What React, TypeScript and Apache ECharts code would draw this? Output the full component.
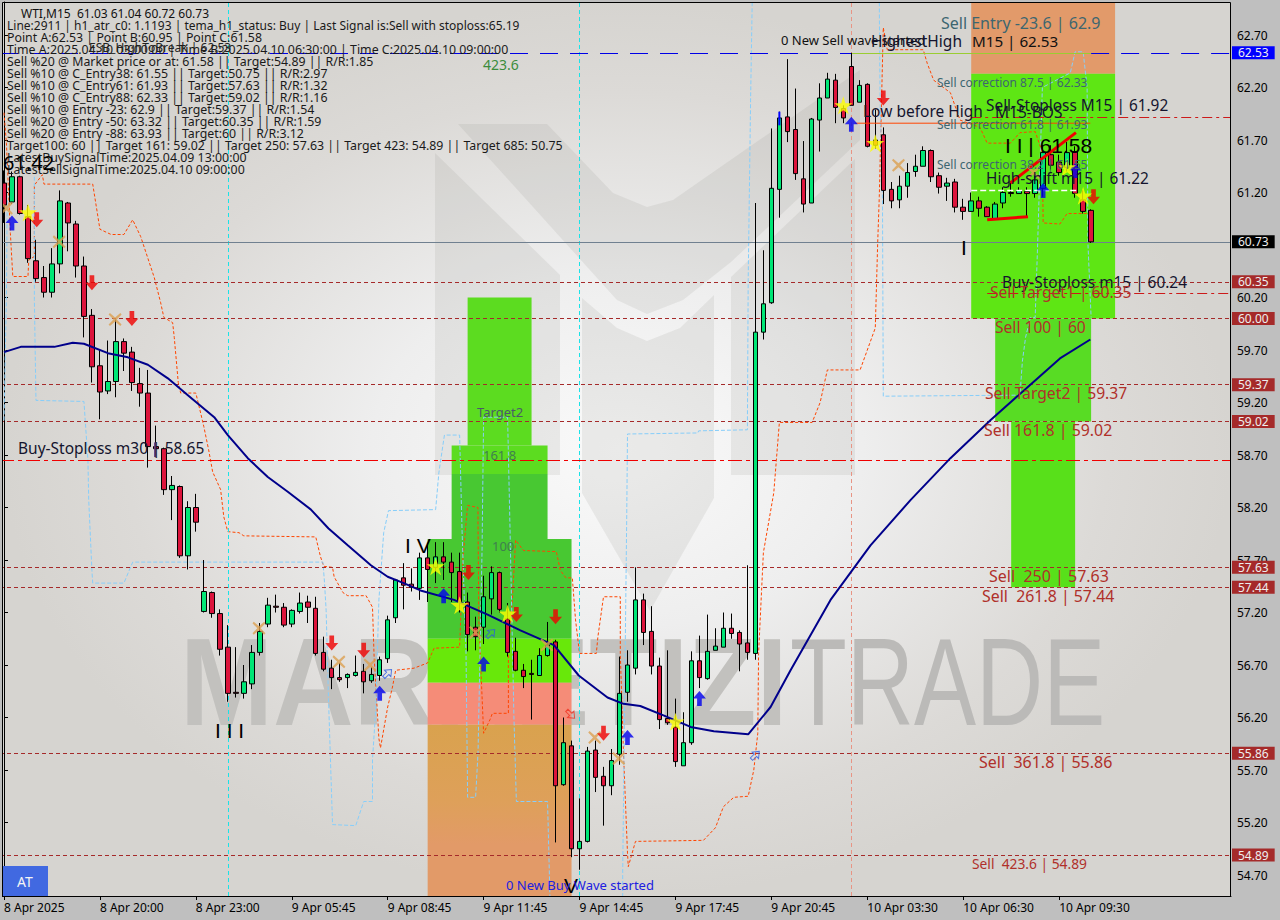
import React, { useEffect, useRef } from "react";
import * as echarts from "echarts";

const tickLabels = ["8 Apr 2025","8 Apr 20:00","8 Apr 23:00","9 Apr 05:45","9 Apr 08:45","9 Apr 11:45","9 Apr 14:45","9 Apr 17:45","9 Apr 20:45","10 Apr 03:30","10 Apr 06:30","10 Apr 09:30"];
const priceTicks = [62.7,62.2,61.7,61.2,60.2,59.7,59.2,58.7,58.2,57.7,57.2,56.7,56.2,55.7,55.2,54.7];

const opens = [61.29,61.11,61.35,60.97,60.55,60.39,60.25,60.52,61.10,60.90,
60.50,60.03,59.55,59.31,59.40,59.78,59.68,59.38,59.29,58.78,
58.76,58.37,58.40,57.74,58.20,57.21,57.39,57.19,56.87,56.44,
56.43,56.52,56.82,57.09,57.26,57.25,57.09,57.21,57.30,57.24,
56.82,56.67,56.58,56.58,56.60,56.64,56.55,56.60,56.76,57.15,
57.53,57.47,57.43,57.72,57.63,57.73,57.68,57.59,57.30,57.06,
57.06,57.33,57.58,57.14,56.83,56.65,56.62,56.60,56.79,56.92,
55.56,55.93,54.95,55.02,55.89,55.64,55.55,55.85,56.44,56.67,
57.32,57.02,56.69,56.19,56.11,55.74,55.96,56.74,56.57,56.84,
56.87,57.05,57.01,56.91,56.81,59.87,60.15,61.23,61.92,61.80,
61.33,61.10,61.89,62.10,62.27,62.00,62.40,62.06,62.23,61.70,
61.75,61.23,61.13,61.26,61.40,61.45,61.60,61.36,61.26,61.30,
61.06,61.02,61.12,61.06,60.95,61.10,61.20,61.19,61.21,61.19,
61.24,61.56,61.49,61.44,61.59,61.13,61.03];
const closes = [61.08,61.35,61.00,60.57,60.38,60.25,60.52,61.12,60.91,60.50,
60.02,59.54,59.30,59.40,59.78,59.67,59.39,59.29,58.78,58.76,
58.37,58.41,57.74,58.20,58.06,57.40,57.19,56.85,56.43,56.43,
56.54,56.82,57.02,57.27,57.25,57.08,57.22,57.29,57.25,56.81,
56.66,56.58,56.56,56.61,56.63,56.54,56.61,56.75,57.13,57.51,
57.46,57.44,57.72,57.61,57.73,57.68,57.58,57.30,56.99,56.97,
57.35,57.58,57.23,56.82,56.65,56.59,56.61,56.79,56.89,55.55,
55.96,54.95,55.02,55.88,55.63,55.55,55.79,56.43,56.70,57.32,
57.01,56.69,56.18,56.15,55.78,55.96,56.74,56.58,56.83,56.88,
57.05,57.00,56.90,56.82,59.87,60.14,61.24,61.91,61.78,61.38,
61.09,61.90,62.10,62.28,62.01,61.91,62.03,62.22,61.64,61.65,
61.22,61.12,61.26,61.39,61.45,61.60,61.35,61.25,61.29,61.06,
61.02,61.12,61.05,60.97,61.09,61.20,61.19,61.22,61.19,61.32,
61.58,61.46,61.39,61.58,61.19,61.02,60.73];
const lows = [60.91,61.09,60.99,60.53,60.35,60.20,60.20,60.43,60.64,60.39,
59.82,59.39,59.04,59.28,59.25,59.50,59.31,59.16,58.58,58.68,
58.32,58.08,57.72,57.61,57.97,57.20,57.15,56.79,56.35,56.39,
56.38,56.47,56.79,57.06,57.20,57.06,57.06,57.19,57.10,56.79,
56.64,56.47,56.54,56.48,56.59,56.43,56.53,56.55,56.72,57.10,
57.23,57.40,57.32,57.30,57.48,57.51,57.30,57.20,56.83,56.84,
56.90,57.18,57.20,56.78,56.64,56.48,56.18,56.60,56.78,55.01,
55.55,54.87,54.75,55.01,55.49,55.17,55.46,55.75,56.35,56.61,
56.89,56.61,56.09,56.13,55.73,55.74,55.94,56.48,56.56,56.84,
56.87,56.95,56.64,56.75,56.75,59.80,60.14,60.96,61.68,61.32,
61.01,61.10,61.59,62.10,61.86,61.86,62.03,62.06,61.63,61.62,
61.09,61.05,61.05,61.15,61.35,61.45,61.30,61.19,61.12,61.01,
60.94,61.02,60.97,60.97,60.95,61.05,61.16,61.19,60.97,61.15,
61.16,61.42,61.36,61.40,61.15,61.00,60.72];
const highs = [61.41,61.40,61.36,61.08,60.75,60.50,60.67,61.22,61.11,60.93,
60.59,60.09,59.70,59.79,59.99,59.81,59.73,59.53,59.51,58.98,
58.77,58.50,58.41,58.26,58.33,57.70,57.40,57.23,57.08,56.87,
56.70,56.89,57.10,57.34,57.37,57.29,57.23,57.39,57.36,57.35,
56.97,56.75,56.72,56.62,56.79,56.71,56.68,56.78,57.17,57.52,
57.67,57.62,57.77,57.86,57.87,57.87,57.77,57.77,57.39,57.16,
57.55,57.64,57.59,57.29,56.96,56.71,56.75,56.86,57.11,56.94,
56.20,55.98,55.43,55.92,55.98,55.73,55.90,56.78,56.84,57.63,
57.38,57.26,56.77,56.84,56.38,56.25,56.83,56.98,57.18,57.05,
57.20,57.19,57.03,57.65,61.10,60.65,61.81,61.97,62.47,62.19,
61.69,61.91,62.24,62.34,62.33,62.03,62.53,62.27,62.24,61.99,
61.82,61.30,61.36,61.48,61.56,61.64,61.61,61.39,61.34,61.33,
61.14,61.20,61.16,61.07,61.11,61.25,61.29,61.25,61.25,61.36,
61.65,61.65,61.56,61.68,61.64,61.22,61.04];

const maLine = [[0,59.68],[2.1,59.73],[6.3,59.73],[8.6,59.77],[10,59.76],[13,59.67],[15.5,59.63],[18,59.56],[20.5,59.43],[23,59.27],[26.3,59.06],[28,58.89],[30.5,58.67],[33,58.49],[35.5,58.35],[38.4,58.18],[40.6,58.00],[43,57.84],[45.9,57.65],[48,57.54],[50,57.48],[52.1,57.41],[56.3,57.32],[60.5,57.18],[64.6,57.03],[68.8,56.89],[71.9,56.60],[75.5,56.39],[77.5,56.33],[79.6,56.31],[82.5,56.22],[85.9,56.11],[88.8,56.07],[93.1,56.04],[95.9,56.30],[98.4,56.65],[103.4,57.32],[108.4,57.84],[113.4,58.27],[118.4,58.67],[123.4,59.03],[128.4,59.37],[132.1,59.62],[135.9,59.80]];

const orangeBand = [[0,61.96],[0.3,61.67],[0.8,60.81],[1.1,60.40],[3,60.40],[3.1,60.56],[3.8,60.59],[3.8,61.27],[4.8,61.37],[5,61.28],[11.1,61.28],[12,60.85],[13.4,60.80],[15,60.80],[16.1,60.94],[17.1,60.78],[18.8,60.39],[19.6,60.15],[20,60.01],[21.1,59.96],[21.3,59.82],[21.8,59.39],[22.1,59.29],[24,59.29],[24.6,59.10],[25,58.97],[25.6,58.75],[26.1,58.54],[27.1,58.37],[27.5,58.11],[28,57.97],[29.4,57.96],[30,57.93],[39,57.92],[39.6,57.73],[40,57.64],[41.1,57.63],[41.3,57.54],[42.4,57.39],[43,57.36],[45.3,57.36],[46.1,57.25],[46.3,56.78],[46.9,56.00],[47.1,55.91],[48,56.30],[48.6,56.49],[49,56.65],[51.3,56.67],[53,56.72],[53.8,56.86],[57,56.87],[57.4,57.70],[58,58.22],[59.3,58.20],[59.3,58.05],[59.4,57.13],[60,56.05],[60.8,56.18],[61.1,56.24],[63.1,56.24],[63.1,56.81],[63.6,57.32],[64,57.89],[65,57.79],[69.1,57.78],[69.6,57.60],[70.3,57.53],[71.1,57.53],[71.5,57.13],[72,56.81],[74.1,56.81],[74.3,56.97],[75,57.35],[77.1,57.35],[77.1,56.81],[77.5,55.86],[78,54.91],[78.1,54.78],[79,55.02],[87.5,55.03],[89,55.15],[90,55.35],[91.3,55.44],[93.1,55.45],[93.8,55.70],[94.3,56.05],[94.4,56.81],[95,57.77],[96.3,58.34],[97,59.01],[101.1,59.01],[102.1,59.20],[103,59.51],[107.1,59.51],[109,59.91],[109.3,60.72],[109.5,61.16],[110,62.77],[110.5,62.56],[115,62.56],[115.5,62.43],[116.3,62.27],[118.4,62.15],[119.6,61.89],[122.1,61.82],[123,61.67],[125.9,61.67],[127.1,61.77],[129,61.78],[129.9,61.58],[130,60.91],[132.1,60.90],[133,61.00],[135.9,61.00]];

const skyBandStart = [[0,59.03],[0.3,60.18],[0.4,61.13]];
const skyBandA = [[3.8,61.35],[3.8,60.18],[4,59.22],[10,59.21],[10.5,58.65],[10.6,58.27],[11,57.60],[11.1,57.48],[15,57.48],[16.1,57.68],[39.9,57.68],[40.1,57.48],[40.3,57.22],[40.6,56.37],[41.1,55.18],[44,55.17],[45,55.40],[46.1,55.40],[46.1,55.80],[46.5,56.27],[46.9,57.32],[47.5,57.96],[48.1,58.17],[54,58.18],[54.4,58.53],[55,58.84],[55.1,58.89],[57,58.89],[57.3,57.99],[57.8,56.81],[58,55.44],[59,55.44],[59.3,55.86],[59.8,57.77],[60,59.06],[63,59.06],[63.3,58.01],[63.8,56.18],[64.1,55.40],[68,55.40],[68.3,54.49]];
const skyBandB = [[77.4,54.49],[77.4,54.72],[77.9,58.08],[78,58.90],[86.8,58.91],[86.9,58.93],[93,58.94],[93.1,60.37],[93.4,62.08],[93.6,63.01]];
const skyBandC = [[109.5,63.01],[109.6,62.08],[109.9,61.13],[110,59.26],[127.1,59.27],[127.4,59.59],[127.8,59.82],[128.4,60.01],[129,60.01],[129.3,60.68],[129.9,62.20],[133.4,62.34],[134,62.54],[135,62.54],[135.5,62.20],[135.6,60.72],[136,60.01]];

const starMarks = [[3,61.01],[54,57.64],[57,57.27],[63,57.19],[84,56.16],[105,62.03],[109,61.67],[135,61.17],[133,61.44]];
const sellArrows = [[4.1,60.94],[11,60.34],[16,60.00],[41,56.91],[45,56.84],[58.1,57.58],[64.1,57.18],[69,57.16],[75,56.05],[110,62.10],[136.3,61.16]];
const buyArrows = [[1,60.91],[47,56.43],[55,57.36],[60,56.71],[78,56.01],[87,56.38],[106,61.85],[130,61.22],[134,61.41]];
const crossMarks = [[0.3,61.05],[6.9,60.73],[13.9,59.99],[31.9,57.05],[41.9,56.73],[45.8,56.70],[59,57.01],[67.9,56.89],[73.9,56.01],[76.9,55.81],[111.9,61.46],[128.8,61.39]];
const openBuyArrows = [[48,56.62],[60.9,57.00],[94,55.84]];
const openSellArrows = [[70.9,56.23]];

const trendUp = [[125.9,61.29],[134.1,61.77]];
const trendLow = [[123,60.94],[128.1,60.97]];
const lowBeforeHigh = [[106.5,61.86],[135.9,61.86]];
const highShift = [[121,61.22],[134.25,61.22]];
const blueTick = [[97,61.97],[97,61.84]];
const purpleTick = [[18.9,58.82],[18.9,58.68]];

const targetLevels = [60.35,60.0,59.37,59.02,57.63,57.44,55.86,54.89];
const signalLines = [28,72];
const waveLine = 106;

// [fromBar, toBar, priceTop, priceBottom]
const zoneRanges = [
  [121,139,63.02,62.33],
  [121,139,62.33,60.0],
  [124,136,60.0,59.02],
  [126,134,59.02,57.44],
  [58,66,60.2,58.79],
  [56,68,58.79,58.52],
  [56,68,58.52,57.9],
  [53,71,57.9,56.95],
  [53,71,56.95,56.53],
  [53,71,56.53,56.13],
  [53,71,56.13,54.5],
];

const infoLines = [
  "Line:2911 | h1_atr_c0: 1.1193 | tema_h1_status: Buy | Last Signal is:Sell with stoploss:65.19",
  "Point A:62.53 | Point B:60.95 | Point C:61.58",
  "Time A:2025.04.10 03:00:00 | Time B:2025.04.10 06:30:00 | Time C:2025.04.10 09:00:00",
  "Sell %20 @ Market price or at: 61.58 || Target:54.89 || R/R:1.85",
  "Sell %10 @ C_Entry38: 61.55 || Target:50.75 || R/R:2.97",
  "Sell %10 @ C_Entry61: 61.93 || Target:57.63 || R/R:1.32",
  "Sell %10 @ C_Entry88: 62.33 || Target:59.02 || R/R:1.16",
  "Sell %10 @ Entry -23: 62.9 || Target:59.37 || R/R:1.54",
  "Sell %20 @ Entry -50: 63.32 || Target:60.35 || R/R:1.59",
  "Sell %20 @ Entry -88: 63.93 || Target:60 || R/R:3.12",
  "Target100: 60 || Target 161: 59.02 || Target 250: 57.63 || Target 423: 54.89 || Target 685: 50.75",
  "LatestBuySignalTime:2025.04.09 13:00:00",
  "LatestSellSignalTime:2025.04.10 09:00:00",
];

const noteTexts = [
  "WTI,M15  61.03 61.04 60.72 60.73","ESB_HighToBreak | 62.53","61.42","423.6","Buy-Stoploss m30 | 58.65",
  "I V","I I I","V","I","Target2","161.8","100","0 New Buy Wave started","0 New Sell wave started",
  "HighestHigh","Low before High","M15-BOS","Sell Entry -23.6 | 62.9","M15 | 62.53",
  "Sell correction 87.5 | 62.33","Sell correction 61.8 | 61.93","Sell correction 38.2 | 61.55",
  "Sell-Stoploss M15 | 61.92","I I | 61.58","High-shift m15 | 61.22","Buy-Stoploss m15 | 60.24",
  "Sell Target1 | 60.35","Sell 100 | 60","Sell Target2 | 59.37","Sell 161.8 | 59.02",
  "Sell  250 | 57.63","Sell  261.8 | 57.44","Sell  361.8 | 55.86","Sell  423.6 | 54.89",
];

const FONT = '"Noto Sans"';
const BAR_FONT = '"Liberation Sans"';
const DARK = "#14142e";
const BROWN = "#b0302a";
const SLATE = "#3d6670";
// x, y, size, colour, font — same order as noteTexts
const noteLayout: [number,number,number,string,string][] = [
  [21,13,12,"#111",FONT],[89,47,12,"#222",FONT],[3,162,20,"#000",FONT],[483,64,14,"#3c8c3c",FONT],[18,448,15.5,DARK,FONT],
  [405,545,21,"#000",BAR_FONT],[215,730,21,"#000",BAR_FONT],[564,885,21,"#000",BAR_FONT],[961,247,21,"#000",BAR_FONT],
  [477,412,13,"#4a5a6a",FONT],[483,455,13,"#3f7f4f",FONT],[492,546,13,"#3f7f4f",FONT],[506,885,13,"#2020e0",FONT],[781,40,13,"#111",FONT],
  [871,41,15.5,DARK,FONT],[863,111,15.5,DARK,FONT],[995,112,15.5,DARK,FONT],[941,23,16,SLATE,FONT],[972,41,15.2,"#111",FONT],
  [937,82,12,SLATE,FONT],[937,124,12,SLATE,FONT],[937,164,12,SLATE,FONT],
  [986,105,15.4,DARK,FONT],[1005,145,21,"#000",BAR_FONT],[986,178,15.4,DARK,FONT],[1002,282,15.4,DARK,FONT],
  [990,292,15.6,BROWN,FONT],[995,327,15.6,BROWN,FONT],[985,393,15.7,BROWN,FONT],[984,430,15.9,BROWN,FONT],
  [989,576,16,BROWN,FONT],[982,596,15.9,BROWN,FONT],[979,762,16,BROWN,FONT],[972,863,13.8,BROWN,FONT],
];

const STAR = "path://M50 0 L61 35 L98 35 L68 57 L79 91 L50 70 L21 91 L32 57 L2 35 L39 35 Z";
const ARROW = "path://M50 0 L100 50 L68 50 L68 100 L32 100 L32 50 L0 50 Z";
const CROSS = "path://M10 0 L50 35 L90 0 L100 12 L63 50 L100 88 L90 100 L50 65 L10 100 L0 88 L37 50 L0 12 Z";

const lineOn = (data: number[][], color: string, width: number, type: any, z: number) => ({
  type: "line", xAxisIndex: 1, data, symbol: "none", silent: true, z, animation: false,
  lineStyle: { color, width, type },
});
const marks = (data: number[][], symbol: string, size: any, color: string, rotate = 0, open = false) => ({
  type: "scatter", xAxisIndex: 1, data, symbol, symbolSize: size, symbolRotate: rotate, silent: true, z: 8,
  itemStyle: open ? { color: "rgba(255,255,255,0)", borderColor: color, borderWidth: 1 } : { color },
});
const tag = (bg: string) => ({
  show: true, position: "end", distance: 1, formatter: (p: any) => Number(p.value).toFixed(2),
  backgroundColor: bg, color: "#eeeeee", fontFamily: FONT, fontSize: 12, padding: [0, 6], lineHeight: 13,
});

export default function App() {
  const ref = useRef<HTMLDivElement>(null);
  useEffect(() => {
    const chart = echarts.init(ref.current!, undefined, { renderer: "svg" });
    const categories = Array.from({ length: 154 }, (_, i) => (i % 12 === 0 && tickLabels[i / 12]) || " ");
    const candles = opens.map((o, i) => [o, closes[i], lows[i], highs[i]]);
    const poly = (points: number[][], fill: string) => ({ type: "polygon", shape: { points }, style: { fill }, z: -1, silent: true });
    const zoneColors: any[] = [
      "#e29a6a","#5ee614","#58dc24","#58e01a","#5cdc20","#5cdc20","#48c832","#48c832","#68e80a","#f58c78",
      new echarts.graphic.LinearGradient(0, 0, 0, 1, [
        { offset: 0, color: "#d9a24e" }, { offset: 0.45, color: "#dea05a" }, { offset: 0.7, color: "#e29a68" }, { offset: 1, color: "#e29a68" } ]),
    ];

    const graphic: any[] = [
      { type: "rect", shape: { x: 3, y: 3, width: 1228, height: 893 }, z: -2, silent: true,
        style: { fill: new echarts.graphic.RadialGradient(0.5, 0.5, 0.5, [
          { offset: 0, color: "#fafafa" }, { offset: 0.4, color: "#eeeeee" },
          { offset: 0.8, color: "#dcdad7" }, { offset: 1, color: "#d6d4d0" } ]) } },
      poly([[435,153],[560,275],[560,475],[435,475]], "rgba(140,140,135,0.14)"),
      poly([[458,124],[547,124],[613,193],[647,207],[673,200],[860,70],[860,140],[731,262],[683,300],[647,314],[617,300]], "rgba(140,140,135,0.14)"),
      poly([[582,298],[617,328],[647,341],[680,328],[714,295],[714,498],[650,611],[582,493]], "rgba(140,140,135,0.14)"),
      poly([[731,277],[855,159],[855,475],[731,475]], "rgba(140,140,135,0.14)"),
      { type: "text", x: 180, y: 682, scaleX: 0.9, z: -1, silent: true,
        style: { text: "MARKETIZI", fontFamily: "Liberation Sans", fontWeight: "bold", fontSize: 124, fill: "#c2c1be", textVerticalAlign: "middle" } },
      { type: "text", x: 790, y: 682, scaleX: 0.75, z: -1, silent: true,
        style: { text: "TRADE", fontFamily: "Liberation Sans", fontSize: 124, fill: "#bbbab8", textVerticalAlign: "middle" } },
      ...infoLines.map((text, i) => ({ type: "text", x: 7, y: 25 + 12 * i, z: 30, silent: true,
        style: { text, font: `${i === 0 ? 12 : 12.35}px ${FONT}`, fill: "#1a1a1a", textVerticalAlign: "middle" } })),
      ...noteTexts.map((text, i) => {
        const [x, y, size, fill, family] = noteLayout[i];
        return { type: "text", x, y, z: 30, silent: true,
          style: { text, font: `${size}px ${family}`, fill, textVerticalAlign: "middle" } };
      }),
      { type: "rect", shape: { x: 0, y: 0, width: 2, height: 920 }, z: 29, silent: true, style: { fill: "#bfbfbf" } },
      { type: "rect", shape: { x: 2.5, y: 2.5, width: 1228, height: 894 }, z: 29, silent: true, style: { fill: "none", stroke: "#000", lineWidth: 1 } },
      { type: "rect", shape: { x: 3, y: 866, width: 45, height: 30 }, z: 31, silent: true, style: { fill: "#4169e1" } },
      { type: "text", x: 17, y: 881, z: 32, silent: true, style: { text: "AT", font: `14px ${FONT}`, fill: "#f4f4f4", textVerticalAlign: "middle" } },
    ];

    const option: any = {
      animation: false,
      backgroundColor: "#bfbfbf",
      grid: { left: -1, top: 2, width: 1232, height: 894, containLabel: false },
      graphic,
      xAxis: [
        { type: "category", data: categories, boundaryGap: true,
          axisLine: { show: true, lineStyle: { color: "#000" } },
          axisTick: { show: true, length: 4, alignWithLabel: true, lineStyle: { color: "#000" }, interval: (i: number) => i % 12 === 0 && i <= 132 },
          axisLabel: { show: true, align: "left", margin: 5, color: "#000", fontFamily: FONT, fontSize: 12, hideOverlap: false, interval: (i: number) => i % 12 === 0 && i <= 132 },
          splitLine: { show: false } },
        { type: "value", min: -0.5, max: 153.5, show: false, splitLine: { show: false } },
      ],
      yAxis: {
        type: "value", position: "right", min: 54.5, max: 63.0143, scale: true,
        splitLine: { show: false },
        axisLine: { show: true, lineStyle: { color: "#000" } },
        axisTick: { show: true, length: 4, customValues: priceTicks, lineStyle: { color: "#000" } },
        axisLabel: { show: true, customValues: priceTicks, margin: 6, color: "#000", fontFamily: FONT, fontSize: 12, formatter: (v: number) => v.toFixed(2) },
      },
      series: [
        { type: "line", xAxisIndex: 1, data: [], z: 1, silent: true,
          markArea: { silent: true, data: zoneRanges.map(([a, b, top, bottom], i) => [
            { xAxis: a, yAxis: top, itemStyle: { color: zoneColors[i], opacity: 1 } }, { xAxis: b, yAxis: bottom } ]) } },
        { type: "line", xAxisIndex: 1, data: [], z: 3, silent: true,
          markLine: { silent: true, symbol: ["none", "none"], animation: false,
            data: [
              ...signalLines.map((v) => ({ xAxis: v, label: { show: false }, lineStyle: { color: "#19e3e8", type: [4, 3], width: 1 } })),
              { xAxis: waveLine, label: { show: false }, lineStyle: { color: "#e89484", type: [4, 3], width: 1 } },
              { yAxis: 58.65, label: { show: false }, lineStyle: { color: "#f00000", type: [14, 4, 4, 4], width: 1 } },
              [{ xAxis: 121, yAxis: 61.92, lineStyle: { color: "#cc1a1a", type: [10, 4, 3, 4], width: 1 }, label: { show: false } }, { xAxis: 153.5, yAxis: 61.92 }],
              [{ xAxis: 123, yAxis: 60.24, lineStyle: { color: "#cc1a1a", type: [10, 4, 3, 4], width: 1 }, label: { show: false } }, { xAxis: 153.5, yAxis: 60.24 }],
              [{ xAxis: -0.5, yAxis: 62.53, lineStyle: { color: "#0000e6", type: [18, 12], width: 1 }, label: { show: false } }, { xAxis: 106, yAxis: 62.53 }],
              [{ xAxis: 106, yAxis: 62.53, lineStyle: { color: "#9acd32", type: "solid", width: 1 }, label: { show: false } }, { xAxis: 136, yAxis: 62.53 }],
              [{ xAxis: 136, yAxis: 62.53, lineStyle: { color: "#0000e6", type: [18, 12], width: 1 }, label: { show: false } }, { xAxis: 153.5, yAxis: 62.53 }],
            ] } },
        lineOn(orangeBand, "#ff4500", 1, [3, 2], 4),
        lineOn(skyBandStart, "#87cefa", 1, [4, 2], 4),
        lineOn(skyBandA, "#87cefa", 1, [4, 2], 4),
        lineOn(skyBandB, "#87cefa", 1, [4, 2], 4),
        lineOn(skyBandC, "#87cefa", 1, [4, 2], 4),
        { type: "candlestick", xAxisIndex: 0, data: candles, barWidth: 5, z: 5, silent: true,
          itemStyle: { color: "#00e676", color0: "#dc143c", borderColor: "#000", borderColor0: "#000", borderWidth: 1 } },
        lineOn(maLine, "#00008b", 2, "solid", 6),
        lineOn(lowBeforeHigh, "#ff4500", 1, "solid", 6),
        lineOn(highShift, "#ffffff", 1.5, [6, 3], 6),
        lineOn(trendUp, "#f00000", 3, "solid", 7),
        lineOn(trendLow, "#f00000", 3, "solid", 7),
        lineOn(blueTick, "#0000ff", 2, "solid", 7),
        lineOn(purpleTick, "#5a3a80", 2, "solid", 7),
        marks(crossMarks, CROSS, 13, "#dca050"),
        marks(sellArrows, ARROW, [13, 15], "#f00000", 180),
        marks(buyArrows, ARROW, [13, 15], "#0000ee"),
        marks(starMarks, STAR, 18, "#ffff00"),
        marks(openBuyArrows, ARROW, [9, 11], "#2a5ae0", -45, true),
        marks(openSellArrows, ARROW, [9, 11], "#f03020", -135, true),
        { type: "line", xAxisIndex: 1, data: [], z: 9, silent: true,
          markLine: { silent: true, symbol: ["none", "none"], animation: false,
            data: [
              ...targetLevels.map((v) => ({ yAxis: v, label: tag("#a52a2a"), lineStyle: { color: "#a52a2a", type: [4, 3], width: 1 } })),
              { yAxis: 60.73, label: tag("#000000"), lineStyle: { color: "#708090", type: "solid", width: 1 } },
              { yAxis: 62.53, label: tag("#0000ff"), lineStyle: { color: "rgba(0,0,0,0)", width: 0 } },
            ] } },
      ],
    };
    chart.setOption(option);
    return () => chart.dispose();
  }, []);
  return <div ref={ref} style={{ position: "fixed", left: 0, top: 0, width: 1280, height: 920 }} />;
}
